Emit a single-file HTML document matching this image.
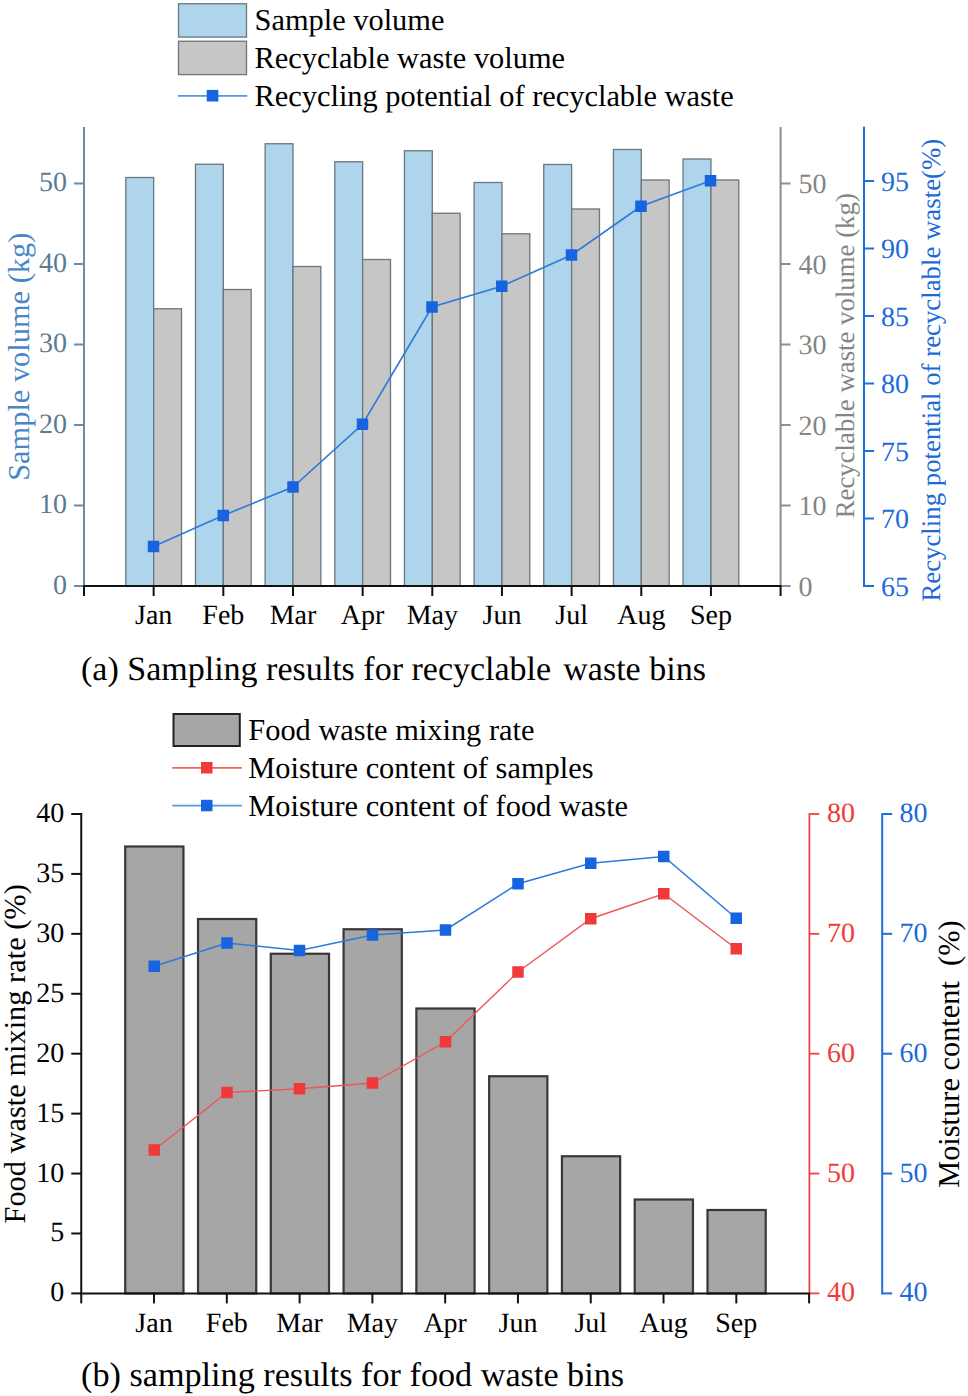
<!DOCTYPE html>
<html><head><meta charset="utf-8"><title>Sampling results</title>
<style>
html,body{margin:0;padding:0;background:#fff;}
body{width:968px;height:1396px;overflow:hidden;}
svg{display:block;font-family:"Liberation Serif", serif;}
text{font-family:"Liberation Serif", serif;text-rendering:geometricPrecision;}
</style></head>
<body>
<svg width="968" height="1396" viewBox="0 0 968 1396">
<rect width="968" height="1396" fill="#fff"/>
<rect x="125.80" y="177.50" width="27.86" height="408.50" fill="#aed5eb" stroke="#6b767e" stroke-width="1.3"/>
<rect x="153.66" y="308.75" width="27.86" height="277.25" fill="#c6c6c6" stroke="#6b767e" stroke-width="1.3"/>
<rect x="195.46" y="164.25" width="27.86" height="421.75" fill="#aed5eb" stroke="#6b767e" stroke-width="1.3"/>
<rect x="223.32" y="289.50" width="27.86" height="296.50" fill="#c6c6c6" stroke="#6b767e" stroke-width="1.3"/>
<rect x="265.12" y="143.75" width="27.86" height="442.25" fill="#aed5eb" stroke="#6b767e" stroke-width="1.3"/>
<rect x="292.98" y="266.50" width="27.86" height="319.50" fill="#c6c6c6" stroke="#6b767e" stroke-width="1.3"/>
<rect x="334.78" y="161.75" width="27.86" height="424.25" fill="#aed5eb" stroke="#6b767e" stroke-width="1.3"/>
<rect x="362.64" y="259.50" width="27.86" height="326.50" fill="#c6c6c6" stroke="#6b767e" stroke-width="1.3"/>
<rect x="404.44" y="150.75" width="27.86" height="435.25" fill="#aed5eb" stroke="#6b767e" stroke-width="1.3"/>
<rect x="432.30" y="213.25" width="27.86" height="372.75" fill="#c6c6c6" stroke="#6b767e" stroke-width="1.3"/>
<rect x="474.10" y="182.50" width="27.86" height="403.50" fill="#aed5eb" stroke="#6b767e" stroke-width="1.3"/>
<rect x="501.96" y="233.75" width="27.86" height="352.25" fill="#c6c6c6" stroke="#6b767e" stroke-width="1.3"/>
<rect x="543.76" y="164.50" width="27.86" height="421.50" fill="#aed5eb" stroke="#6b767e" stroke-width="1.3"/>
<rect x="571.62" y="209.00" width="27.86" height="377.00" fill="#c6c6c6" stroke="#6b767e" stroke-width="1.3"/>
<rect x="613.42" y="149.50" width="27.86" height="436.50" fill="#aed5eb" stroke="#6b767e" stroke-width="1.3"/>
<rect x="641.28" y="180.00" width="27.86" height="406.00" fill="#c6c6c6" stroke="#6b767e" stroke-width="1.3"/>
<rect x="683.08" y="159.00" width="27.86" height="427.00" fill="#aed5eb" stroke="#6b767e" stroke-width="1.3"/>
<rect x="710.94" y="180.00" width="27.86" height="406.00" fill="#c6c6c6" stroke="#6b767e" stroke-width="1.3"/>
<polyline points="153.5,546.5 223.25,515.5 293,487 362.5,424.25 432,307 501.75,286.25 571.5,255 641,206.25 710.5,180.75" fill="none" stroke="#2c7adb" stroke-width="1.6"/>
<rect x="147.75" y="540.75" width="11.5" height="11.5" fill="#1763e0"/>
<rect x="217.5" y="509.75" width="11.5" height="11.5" fill="#1763e0"/>
<rect x="287.25" y="481.25" width="11.5" height="11.5" fill="#1763e0"/>
<rect x="356.75" y="418.5" width="11.5" height="11.5" fill="#1763e0"/>
<rect x="426.25" y="301.25" width="11.5" height="11.5" fill="#1763e0"/>
<rect x="496.0" y="280.5" width="11.5" height="11.5" fill="#1763e0"/>
<rect x="565.75" y="249.25" width="11.5" height="11.5" fill="#1763e0"/>
<rect x="635.25" y="200.5" width="11.5" height="11.5" fill="#1763e0"/>
<rect x="704.75" y="175.0" width="11.5" height="11.5" fill="#1763e0"/>
<line x1="84.0" y1="127" x2="84.0" y2="586.0" stroke="#6f8ba0" stroke-width="2"/>
<line x1="74.0" y1="586.00" x2="84.0" y2="586.00" stroke="#6f8ba0" stroke-width="2"/>
<text x="67" y="593.80" text-anchor="end" font-size="28" fill="#5b7b93">0</text>
<line x1="74.0" y1="505.50" x2="84.0" y2="505.50" stroke="#6f8ba0" stroke-width="2"/>
<text x="67" y="513.30" text-anchor="end" font-size="28" fill="#5b7b93">10</text>
<line x1="74.0" y1="425.00" x2="84.0" y2="425.00" stroke="#6f8ba0" stroke-width="2"/>
<text x="67" y="432.80" text-anchor="end" font-size="28" fill="#5b7b93">20</text>
<line x1="74.0" y1="344.50" x2="84.0" y2="344.50" stroke="#6f8ba0" stroke-width="2"/>
<text x="67" y="352.30" text-anchor="end" font-size="28" fill="#5b7b93">30</text>
<line x1="74.0" y1="264.00" x2="84.0" y2="264.00" stroke="#6f8ba0" stroke-width="2"/>
<text x="67" y="271.80" text-anchor="end" font-size="28" fill="#5b7b93">40</text>
<line x1="74.0" y1="183.50" x2="84.0" y2="183.50" stroke="#6f8ba0" stroke-width="2"/>
<text x="67" y="191.30" text-anchor="end" font-size="28" fill="#5b7b93">50</text>
<line x1="780.6" y1="127" x2="780.6" y2="586.0" stroke="#8e8e8e" stroke-width="2"/>
<line x1="780.6" y1="586.00" x2="790.6" y2="586.00" stroke="#8e8e8e" stroke-width="2"/>
<text x="798.5" y="595.90" font-size="28" fill="#858585">0</text>
<line x1="780.6" y1="505.50" x2="790.6" y2="505.50" stroke="#8e8e8e" stroke-width="2"/>
<text x="798.5" y="515.40" font-size="28" fill="#858585">10</text>
<line x1="780.6" y1="425.00" x2="790.6" y2="425.00" stroke="#8e8e8e" stroke-width="2"/>
<text x="798.5" y="434.90" font-size="28" fill="#858585">20</text>
<line x1="780.6" y1="344.50" x2="790.6" y2="344.50" stroke="#8e8e8e" stroke-width="2"/>
<text x="798.5" y="354.40" font-size="28" fill="#858585">30</text>
<line x1="780.6" y1="264.00" x2="790.6" y2="264.00" stroke="#8e8e8e" stroke-width="2"/>
<text x="798.5" y="273.90" font-size="28" fill="#858585">40</text>
<line x1="780.6" y1="183.50" x2="790.6" y2="183.50" stroke="#8e8e8e" stroke-width="2"/>
<text x="798.5" y="193.40" font-size="28" fill="#858585">50</text>
<line x1="864.0" y1="126.5" x2="864.0" y2="587.0" stroke="#1d6fdd" stroke-width="2"/>
<line x1="864.0" y1="586.00" x2="874.0" y2="586.00" stroke="#1d6fdd" stroke-width="2"/>
<text x="881" y="595.60" font-size="28" fill="#1c6ad9">65</text>
<line x1="864.0" y1="518.50" x2="874.0" y2="518.50" stroke="#1d6fdd" stroke-width="2"/>
<text x="881" y="528.10" font-size="28" fill="#1c6ad9">70</text>
<line x1="864.0" y1="451.00" x2="874.0" y2="451.00" stroke="#1d6fdd" stroke-width="2"/>
<text x="881" y="460.60" font-size="28" fill="#1c6ad9">75</text>
<line x1="864.0" y1="383.50" x2="874.0" y2="383.50" stroke="#1d6fdd" stroke-width="2"/>
<text x="881" y="393.10" font-size="28" fill="#1c6ad9">80</text>
<line x1="864.0" y1="316.00" x2="874.0" y2="316.00" stroke="#1d6fdd" stroke-width="2"/>
<text x="881" y="325.60" font-size="28" fill="#1c6ad9">85</text>
<line x1="864.0" y1="248.50" x2="874.0" y2="248.50" stroke="#1d6fdd" stroke-width="2"/>
<text x="881" y="258.10" font-size="28" fill="#1c6ad9">90</text>
<line x1="864.0" y1="181.00" x2="874.0" y2="181.00" stroke="#1d6fdd" stroke-width="2"/>
<text x="881" y="190.60" font-size="28" fill="#1c6ad9">95</text>
<line x1="83.0" y1="586.0" x2="781.6" y2="586.0" stroke="#111" stroke-width="2"/>
<line x1="84.00" y1="586.0" x2="84.00" y2="596.0" stroke="#111" stroke-width="2"/>
<line x1="153.66" y1="586.0" x2="153.66" y2="596.0" stroke="#111" stroke-width="2"/>
<line x1="223.32" y1="586.0" x2="223.32" y2="596.0" stroke="#111" stroke-width="2"/>
<line x1="292.98" y1="586.0" x2="292.98" y2="596.0" stroke="#111" stroke-width="2"/>
<line x1="362.64" y1="586.0" x2="362.64" y2="596.0" stroke="#111" stroke-width="2"/>
<line x1="432.30" y1="586.0" x2="432.30" y2="596.0" stroke="#111" stroke-width="2"/>
<line x1="501.96" y1="586.0" x2="501.96" y2="596.0" stroke="#111" stroke-width="2"/>
<line x1="571.62" y1="586.0" x2="571.62" y2="596.0" stroke="#111" stroke-width="2"/>
<line x1="641.28" y1="586.0" x2="641.28" y2="596.0" stroke="#111" stroke-width="2"/>
<line x1="710.94" y1="586.0" x2="710.94" y2="596.0" stroke="#111" stroke-width="2"/>
<line x1="780.60" y1="586.0" x2="780.60" y2="596.0" stroke="#111" stroke-width="2"/>
<text x="153.66" y="623.8" text-anchor="middle" font-size="28" fill="#000">Jan</text>
<text x="223.32" y="623.8" text-anchor="middle" font-size="28" fill="#000">Feb</text>
<text x="292.98" y="623.8" text-anchor="middle" font-size="28" fill="#000">Mar</text>
<text x="362.64" y="623.8" text-anchor="middle" font-size="28" fill="#000">Apr</text>
<text x="432.30" y="623.8" text-anchor="middle" font-size="28" fill="#000">May</text>
<text x="501.96" y="623.8" text-anchor="middle" font-size="28" fill="#000">Jun</text>
<text x="571.62" y="623.8" text-anchor="middle" font-size="28" fill="#000">Jul</text>
<text x="641.28" y="623.8" text-anchor="middle" font-size="28" fill="#000">Aug</text>
<text x="710.94" y="623.8" text-anchor="middle" font-size="28" fill="#000">Sep</text>
<text transform="translate(29.1,356.75) rotate(-90)" text-anchor="middle" font-size="30.4" fill="#4a86c6">Sample volume (kg)</text>
<text transform="translate(853.6,355.75) rotate(-90)" text-anchor="middle" font-size="26.8" fill="#858585">Recyclable waste volume (kg)</text>
<text transform="translate(940,370.2) rotate(-90)" text-anchor="middle" font-size="26.8" fill="#1c6ad9">Recycling potential of recyclable waste(%)</text>
<rect x="178.5" y="3.75" width="68" height="33.35" fill="#aed5eb" stroke="#6b767e" stroke-width="1.3"/>
<rect x="178.5" y="41.25" width="68" height="33.35" fill="#c6c6c6" stroke="#6b767e" stroke-width="1.3"/>
<line x1="178" y1="95.9" x2="247.3" y2="95.9" stroke="#5296e4" stroke-width="1.7"/>
<rect x="206.75" y="89.9" width="11.6" height="11.6" fill="#1763e0"/>
<text x="254.5" y="30.2" font-size="30.4">Sample volume</text>
<text x="254.5" y="68" font-size="30.4">Recyclable waste volume</text>
<text x="254.5" y="106" font-size="30.4">Recycling potential of recyclable waste</text>
<text x="81" y="679.75" font-size="34">(a) Sampling results for recyclable</text>
<text x="563.3" y="679.5" font-size="34">waste bins</text>
<rect x="125.22" y="846.50" width="58.23" height="446.90" fill="#a6a6a6" stroke="#383838" stroke-width="2.2"/>
<rect x="198.01" y="919.00" width="58.23" height="374.40" fill="#a6a6a6" stroke="#383838" stroke-width="2.2"/>
<rect x="270.79" y="953.75" width="58.23" height="339.65" fill="#a6a6a6" stroke="#383838" stroke-width="2.2"/>
<rect x="343.58" y="929.25" width="58.23" height="364.15" fill="#a6a6a6" stroke="#383838" stroke-width="2.2"/>
<rect x="416.36" y="1008.50" width="58.23" height="284.90" fill="#a6a6a6" stroke="#383838" stroke-width="2.2"/>
<rect x="489.15" y="1076.25" width="58.23" height="217.15" fill="#a6a6a6" stroke="#383838" stroke-width="2.2"/>
<rect x="561.93" y="1156.25" width="58.23" height="137.15" fill="#a6a6a6" stroke="#383838" stroke-width="2.2"/>
<rect x="634.72" y="1199.50" width="58.23" height="93.90" fill="#a6a6a6" stroke="#383838" stroke-width="2.2"/>
<rect x="707.50" y="1210.00" width="58.23" height="83.40" fill="#a6a6a6" stroke="#383838" stroke-width="2.2"/>
<polyline points="154.25,1150 227,1092.5 299.5,1088.75 372.5,1083 445.5,1041.75 518,972 590.75,918.75 663.75,893.75 736.25,948.75" fill="none" stroke="#ef5656" stroke-width="1.4"/>
<polyline points="154.25,966.25 227,943 299.5,950.5 372.5,935 445.5,930 518,883.75 590.75,863.25 663.75,856.5 736.25,918.25" fill="none" stroke="#2c7adb" stroke-width="1.6"/>
<rect x="148.5" y="1144.25" width="11.5" height="11.5" fill="#f03a3a"/>
<rect x="221.25" y="1086.75" width="11.5" height="11.5" fill="#f03a3a"/>
<rect x="293.75" y="1083.0" width="11.5" height="11.5" fill="#f03a3a"/>
<rect x="366.75" y="1077.25" width="11.5" height="11.5" fill="#f03a3a"/>
<rect x="439.75" y="1036.0" width="11.5" height="11.5" fill="#f03a3a"/>
<rect x="512.25" y="966.25" width="11.5" height="11.5" fill="#f03a3a"/>
<rect x="585.0" y="913.0" width="11.5" height="11.5" fill="#f03a3a"/>
<rect x="658.0" y="888.0" width="11.5" height="11.5" fill="#f03a3a"/>
<rect x="730.5" y="943.0" width="11.5" height="11.5" fill="#f03a3a"/>
<rect x="148.5" y="960.5" width="11.5" height="11.5" fill="#1763e0"/>
<rect x="221.25" y="937.25" width="11.5" height="11.5" fill="#1763e0"/>
<rect x="293.75" y="944.75" width="11.5" height="11.5" fill="#1763e0"/>
<rect x="366.75" y="929.25" width="11.5" height="11.5" fill="#1763e0"/>
<rect x="439.75" y="924.25" width="11.5" height="11.5" fill="#1763e0"/>
<rect x="512.25" y="878.0" width="11.5" height="11.5" fill="#1763e0"/>
<rect x="585.0" y="857.5" width="11.5" height="11.5" fill="#1763e0"/>
<rect x="658.0" y="850.75" width="11.5" height="11.5" fill="#1763e0"/>
<rect x="730.5" y="912.5" width="11.5" height="11.5" fill="#1763e0"/>
<line x1="81.25" y1="813" x2="81.25" y2="1293.4" stroke="#111" stroke-width="2"/>
<line x1="71.25" y1="1293.40" x2="81.25" y2="1293.40" stroke="#111" stroke-width="2"/>
<text x="64.3" y="1301.40" text-anchor="end" font-size="28" fill="#000">0</text>
<line x1="71.25" y1="1233.48" x2="81.25" y2="1233.48" stroke="#111" stroke-width="2"/>
<text x="64.3" y="1241.48" text-anchor="end" font-size="28" fill="#000">5</text>
<line x1="71.25" y1="1173.55" x2="81.25" y2="1173.55" stroke="#111" stroke-width="2"/>
<text x="64.3" y="1181.55" text-anchor="end" font-size="28" fill="#000">10</text>
<line x1="71.25" y1="1113.62" x2="81.25" y2="1113.62" stroke="#111" stroke-width="2"/>
<text x="64.3" y="1121.62" text-anchor="end" font-size="28" fill="#000">15</text>
<line x1="71.25" y1="1053.70" x2="81.25" y2="1053.70" stroke="#111" stroke-width="2"/>
<text x="64.3" y="1061.70" text-anchor="end" font-size="28" fill="#000">20</text>
<line x1="71.25" y1="993.78" x2="81.25" y2="993.78" stroke="#111" stroke-width="2"/>
<text x="64.3" y="1001.78" text-anchor="end" font-size="28" fill="#000">25</text>
<line x1="71.25" y1="933.85" x2="81.25" y2="933.85" stroke="#111" stroke-width="2"/>
<text x="64.3" y="941.85" text-anchor="end" font-size="28" fill="#000">30</text>
<line x1="71.25" y1="873.92" x2="81.25" y2="873.92" stroke="#111" stroke-width="2"/>
<text x="64.3" y="881.92" text-anchor="end" font-size="28" fill="#000">35</text>
<line x1="71.25" y1="814.00" x2="81.25" y2="814.00" stroke="#111" stroke-width="2"/>
<text x="64.3" y="822.00" text-anchor="end" font-size="28" fill="#000">40</text>
<line x1="809.4" y1="813.3" x2="809.4" y2="1293.4" stroke="#ef4444" stroke-width="1.8"/>
<line x1="809.4" y1="1293.40" x2="819.4" y2="1293.40" stroke="#ef4444" stroke-width="1.8"/>
<text x="827" y="1301.40" font-size="28" fill="#f03a3a">40</text>
<line x1="809.4" y1="1173.55" x2="819.4" y2="1173.55" stroke="#ef4444" stroke-width="1.8"/>
<text x="827" y="1181.55" font-size="28" fill="#f03a3a">50</text>
<line x1="809.4" y1="1053.70" x2="819.4" y2="1053.70" stroke="#ef4444" stroke-width="1.8"/>
<text x="827" y="1061.70" font-size="28" fill="#f03a3a">60</text>
<line x1="809.4" y1="933.85" x2="819.4" y2="933.85" stroke="#ef4444" stroke-width="1.8"/>
<text x="827" y="941.85" font-size="28" fill="#f03a3a">70</text>
<line x1="809.4" y1="814.00" x2="819.4" y2="814.00" stroke="#ef4444" stroke-width="1.8"/>
<text x="827" y="822.00" font-size="28" fill="#f03a3a">80</text>
<line x1="882.2" y1="813.3" x2="882.2" y2="1294.4" stroke="#1d6fdd" stroke-width="2"/>
<line x1="882.2" y1="1293.40" x2="892.2" y2="1293.40" stroke="#1d6fdd" stroke-width="2"/>
<text x="899.5" y="1301.40" font-size="28" fill="#1c6ad9">40</text>
<line x1="882.2" y1="1173.55" x2="892.2" y2="1173.55" stroke="#1d6fdd" stroke-width="2"/>
<text x="899.5" y="1181.55" font-size="28" fill="#1c6ad9">50</text>
<line x1="882.2" y1="1053.70" x2="892.2" y2="1053.70" stroke="#1d6fdd" stroke-width="2"/>
<text x="899.5" y="1061.70" font-size="28" fill="#1c6ad9">60</text>
<line x1="882.2" y1="933.85" x2="892.2" y2="933.85" stroke="#1d6fdd" stroke-width="2"/>
<text x="899.5" y="941.85" font-size="28" fill="#1c6ad9">70</text>
<line x1="882.2" y1="814.00" x2="892.2" y2="814.00" stroke="#1d6fdd" stroke-width="2"/>
<text x="899.5" y="822.00" font-size="28" fill="#1c6ad9">80</text>
<line x1="80.25" y1="1293.4" x2="810.1" y2="1293.4" stroke="#111" stroke-width="2"/>
<line x1="81.25" y1="1293.4" x2="81.25" y2="1303.4" stroke="#111" stroke-width="2"/>
<line x1="154.03" y1="1293.4" x2="154.03" y2="1303.4" stroke="#111" stroke-width="2"/>
<line x1="226.82" y1="1293.4" x2="226.82" y2="1303.4" stroke="#111" stroke-width="2"/>
<line x1="299.61" y1="1293.4" x2="299.61" y2="1303.4" stroke="#111" stroke-width="2"/>
<line x1="372.39" y1="1293.4" x2="372.39" y2="1303.4" stroke="#111" stroke-width="2"/>
<line x1="445.17" y1="1293.4" x2="445.17" y2="1303.4" stroke="#111" stroke-width="2"/>
<line x1="517.96" y1="1293.4" x2="517.96" y2="1303.4" stroke="#111" stroke-width="2"/>
<line x1="590.75" y1="1293.4" x2="590.75" y2="1303.4" stroke="#111" stroke-width="2"/>
<line x1="663.53" y1="1293.4" x2="663.53" y2="1303.4" stroke="#111" stroke-width="2"/>
<line x1="736.31" y1="1293.4" x2="736.31" y2="1303.4" stroke="#111" stroke-width="2"/>
<line x1="809.10" y1="1293.4" x2="809.10" y2="1303.4" stroke="#111" stroke-width="2"/>
<text x="154.03" y="1331.5" text-anchor="middle" font-size="28" fill="#000">Jan</text>
<text x="226.82" y="1331.5" text-anchor="middle" font-size="28" fill="#000">Feb</text>
<text x="299.61" y="1331.5" text-anchor="middle" font-size="28" fill="#000">Mar</text>
<text x="372.39" y="1331.5" text-anchor="middle" font-size="28" fill="#000">May</text>
<text x="445.17" y="1331.5" text-anchor="middle" font-size="28" fill="#000">Apr</text>
<text x="517.96" y="1331.5" text-anchor="middle" font-size="28" fill="#000">Jun</text>
<text x="590.75" y="1331.5" text-anchor="middle" font-size="28" fill="#000">Jul</text>
<text x="663.53" y="1331.5" text-anchor="middle" font-size="28" fill="#000">Aug</text>
<text x="736.31" y="1331.5" text-anchor="middle" font-size="28" fill="#000">Sep</text>
<text transform="translate(24.8,1053.85) rotate(-90)" text-anchor="middle" font-size="30.4" fill="#000">Food waste mixing rate (%)</text>
<text transform="translate(959.2,1054.1) rotate(-90)" text-anchor="middle" font-size="30.4" fill="#000" style="white-space:pre">Moisture content  (%)</text>
<rect x="173.5" y="714" width="66.3" height="32" fill="#a6a6a6" stroke="#222" stroke-width="2"/>
<line x1="172.3" y1="767.9" x2="241.9" y2="767.9" stroke="#f06262" stroke-width="1.7"/>
<rect x="201" y="762" width="11.5" height="11.5" fill="#f03a3a"/>
<line x1="172.3" y1="805.6" x2="241.9" y2="805.6" stroke="#5a98e6" stroke-width="1.9"/>
<rect x="201" y="799.8" width="11.5" height="11.5" fill="#1763e0"/>
<text x="248.3" y="740.2" font-size="30.4">Food waste mixing rate</text>
<text x="248.3" y="778.1" font-size="30.4">Moisture content of samples</text>
<text x="248.3" y="815.6" font-size="30.4">Moisture content of food waste</text>
<text x="81" y="1385.6" font-size="34.2">(b) sampling results for food waste bins</text>
</svg>
</body></html>
